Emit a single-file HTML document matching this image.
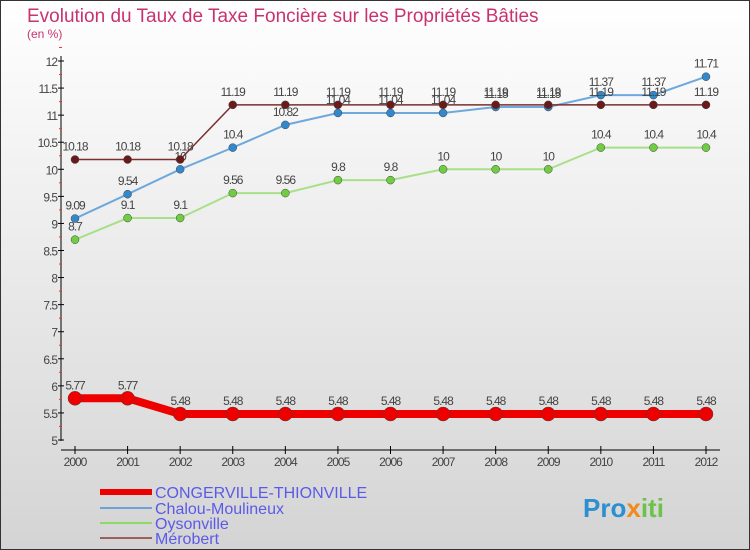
<!DOCTYPE html>
<html><head><meta charset="utf-8"><style>
body{margin:0;}
svg{display:block;font-family:"Liberation Sans",sans-serif;}
</style></head><body>
<svg id="c" width="750" height="550" xmlns="http://www.w3.org/2000/svg">
<defs><linearGradient id="bg" x1="0" y1="0" x2="0" y2="1"><stop offset="0" stop-color="#ffffff"/><stop offset="1" stop-color="#d4d4d4"/></linearGradient></defs>
<rect x="0.5" y="0.5" width="749" height="549" fill="url(#bg)" stroke="#333"/>
<text x="27" y="22" font-size="19" fill="#c8336e">Evolution du Taux de Taxe Foncière sur les Propriétés Bâties</text>
<text x="27" y="38" font-size="12" fill="#c8336e">(en %)</text>
<g id="axes"></g><g id="series"></g>
<g>
<line x1="100" y1="492" x2="152" y2="492" stroke="#ee0000" stroke-width="6"/>
<text x="155" y="498" font-size="16" fill="#5a5ae8">CONGERVILLE-THIONVILLE</text>
<line x1="100" y1="508" x2="152" y2="508" stroke="#6fa0d8" stroke-width="2"/>
<text x="155" y="514" font-size="16" fill="#5a5ae8">Chalou-Moulineux</text>
<line x1="100" y1="523" x2="152" y2="523" stroke="#8fd868" stroke-width="2"/>
<text x="155" y="529" font-size="16" fill="#5a5ae8">Oysonville</text>
<line x1="100" y1="538" x2="152" y2="538" stroke="#9a6060" stroke-width="2"/>
<text x="155" y="544" font-size="16" fill="#5a5ae8">Mérobert</text>
</g>
<g>
<text x="583" y="517" font-size="26" font-weight="bold" fill="#2b8fd0">Pro<tspan fill="#f08a1c">x</tspan><tspan fill="#6cc24a">iti</tspan></text>
</g>
</svg>
<script>
const years=[2000,2001,2002,2003,2004,2005,2006,2007,2008,2009,2010,2011,2012];
const congerville=[5.77,5.77,5.48,5.48,5.48,5.48,5.48,5.48,5.48,5.48,5.48,5.48,5.48];
const chalou=[9.09,9.54,10,10.4,10.82,11.04,11.04,11.04,11.15,11.15,11.37,11.37,11.71];
const oysonville=[8.7,9.1,9.1,9.56,9.56,9.8,9.8,10,10,10,10.4,10.4,10.4];
const merobert=[10.18,10.18,10.18,11.19,11.19,11.19,11.19,11.19,11.19,11.19,11.19,11.19,11.19];
const yTicks=[5,5.5,6,6.5,7,7.5,8,8.5,9,9.5,10,10.5,11,11.5,12];
const NS='http://www.w3.org/2000/svg';
function X(i){return 75+i*(706-75)/(years.length-1);}
function Y(v){return 440-(v-5)*(440-61)/7;}
function mk(t,a,p){const e=document.createElementNS(NS,t);for(const k in a)e.setAttribute(k,a[k]);p.appendChild(e);return e;}
const ax=document.getElementById('axes');
let l=mk('line',{x1:61,y1:56,x2:61,y2:441,stroke:'#000'},ax);


l=mk('line',{x1:61,y1:450,x2:720,y2:450,stroke:'#000'},ax);


yTicks.forEach(v=>{
 const y=Y(v);
 mk('line',{x1:58,y1:y,x2:64,y2:y,stroke:'#000'},ax);
 mk('line',{x1:59,y1:Y(v+0.25),x2:62,y2:Y(v+0.25),stroke:'#e33'},ax);
 const t=mk('text',{x:57,y:y+5,'font-size':12,fill:'#444','text-anchor':'end','letter-spacing':'-1'},ax);
 t.textContent=String(v);
 
 
});
years.forEach((yr,i)=>{
 mk('line',{x1:X(i),y1:446,x2:X(i),y2:454,stroke:'#000'},ax);
 const t=mk('text',{x:X(i),y:466,'font-size':12,fill:'#444','text-anchor':'middle','letter-spacing':'-1'},ax);
 t.textContent=String(yr);
 
 
});
const sg=document.getElementById('series');
function series(vals,name,color,dot,w,r){
 const g=mk('g',{},sg);
 
 
 mk('polyline',{points:vals.map((v,i)=>X(i)+','+Y(v)).join(' '),fill:'none',stroke:color,'stroke-width':w},g);
 vals.forEach((v,i)=>{
  const c=mk('circle',{cx:X(i),cy:Y(v),r:r,fill:dot,stroke:'#444','stroke-width':0.5},g);
  
  
  const t=mk('text',{x:X(i),y:Y(v)-9,'font-size':12,fill:'#444','text-anchor':'middle','letter-spacing':'-1'},g);
  t.textContent=String(v);
  
  
 });
}
series(oysonville,'oysonville','#a8e08a','#70cc40',2,4);
series(chalou,'chalou','#6fa8dc','#3388cc',2,4);
series(merobert,'merobert','#7a3030','#6a1a1a',1.5,4);
series(congerville,'congerville','#ee0000','#ee0000',8,7);
</script>
</body></html>
